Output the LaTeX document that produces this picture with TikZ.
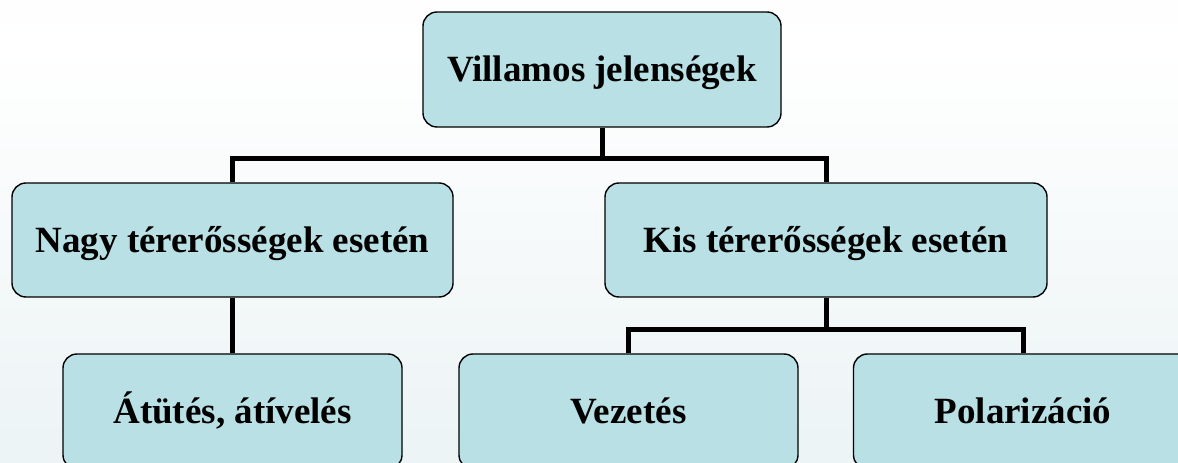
\documentclass[tikz,border=0pt]{standalone}
\usepackage{fontspec}
\setmainfont{Liberation Serif}
\definecolor{boxfill}{RGB}{185,224,228}
\pgfdeclareverticalshading{bgshade}{100bp}{%
  rgb(0bp)=(0.882,0.933,0.941);
  rgb(40bp)=(0.950,0.969,0.973);
  rgb(70bp)=(1,1,1);
  rgb(100bp)=(0.965,0.976,0.980)}
\tikzset{
  box/.style={draw=black, line width=1.4bp, fill=boxfill, rounded corners=14bp,
    inner sep=0pt, text height=24.5bp, text depth=0bp, align=center,
    font=\fontsize{37bp}{44bp}\selectfont\bfseries},
  conn/.style={draw=black, line width=5bp, line join=miter}
}
\begin{document}
\begin{tikzpicture}[x=1bp,y=-1bp]
\useasboundingbox (0,0) rectangle (1178,463);
\clip (0,0) rectangle (1178,463);
\shade[shading=bgshade] (0,0) rectangle (1178,463);

\node[box, minimum width=358bp, minimum height=115bp] (top) at (602,69.5) {Villamos jelenségek};
\node[box, minimum width=441bp, minimum height=114bp] (nagy) at (232.5,240) {Nagy térerősségek esetén};
\node[box, minimum width=442bp, minimum height=114bp] (kis) at (826,240) {Kis térerősségek esetén};
\node[box, minimum width=339bp, minimum height=115bp] (atutes) at (232.5,411.5) {Átütés, átívelés};
\node[box, minimum width=339bp, minimum height=115bp] (vez) at (628.5,411.5) {Vezetés};
\node[box, minimum width=339bp, minimum height=115bp] (pol) at (1023,411.5) {Polarizáció};

\coordinate (j1) at (602,159);
\coordinate (j2) at (826,330);
\draw[conn] (top.south) -- (j1);
\draw[conn] (nagy.north) |- (j1) -| (kis.north);
\draw[conn] (nagy.south) -- (atutes.north);
\draw[conn] (kis.south) -- (j2);
\draw[conn] (vez.north) |- (j2) -| (pol.north);
\end{tikzpicture}
\end{document}
